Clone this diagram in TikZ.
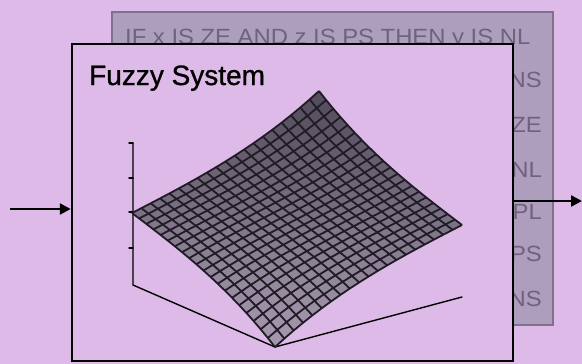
\documentclass[tikz,border=0pt]{standalone}
\usepackage{fontspec}
\setmainfont{Liberation Sans}
\newfontfamily\titlefont{Liberation Sans}[FakeBold=0.9]
\usetikzlibrary{arrows.meta,positioning,calc}
\definecolor{bgpink}{RGB}{222,186,232}
\definecolor{rulefill}{RGB}{172,158,188}
\definecolor{ruledraw}{RGB}{128,114,140}
\definecolor{ruletext}{RGB}{112,98,124}
\definecolor{meshdark}{RGB}{84,76,92}
\definecolor{meshlight}{RGB}{165,152,175}
\definecolor{meshline}{RGB}{32,28,38}

\begin{document}
\begin{tikzpicture}[x=1pt,y=-1pt,
  declare function={hh(\ww)=0.5+0.65*(\ww-0.5)+1.4*(\ww-0.5)^3;
    px(\uu,\vv)=275-143*\uu+187*\vv;
    py(\uu,\vv)=347-62*\uu-50*\vv-144*hh((\uu+\vv)/2);},
  rulebox/.style={draw=ruledraw,line width=1.5pt,fill=rulefill,minimum width=441pt,minimum height=313pt,inner sep=0pt},
  sysbox/.style={draw,line width=2.5pt,fill=bgpink,minimum width=441pt,minimum height=317pt,inner sep=0pt},
  ruletxt/.style={text=ruletext,font=\fontsize{22}{22}\selectfont,xscale=1.083,inner sep=0pt,anchor=base east},
  flow/.style={line width=2.4pt,-{Triangle[length=11pt,width=11pt]}},
  axis/.style={line width=1.4pt,line cap=round},
  grid line/.style={meshline,line width=1.8pt,line join=round}]
\fill[bgpink] (0,0) rectangle (582,364);
\useasboundingbox (0,0) rectangle (582,364);

% rule base behind the system
\node[rulebox] (rules) at (332.5,168.5) {};
\node[ruletxt,anchor=base west] (r0) at (125,44) {IF x IS ZE AND z IS PS THEN y IS NL};
\foreach \lbl/\yb [count=\k] in {NS/87,ZE/132,NL/177,PL/219,PS/261,NS/306}
  \node[ruletxt] (r\k) at (542,\yb) {\lbl};

% fuzzy system box
\node[sysbox] (fsys) at (292.5,202.5) {};
\node[anchor=base west,font=\titlefont\fontsize{28}{28}\selectfont,inner sep=0pt] (title) at (89,85) {Fuzzy System};

% input and output
\coordinate (src) at (10,209);
\coordinate (dst) at (582,201);
\draw[flow] (src) -- (src -| fsys.west);
\draw[flow] (fsys.east |- dst) -- (dst);

% axes of the surface plot
\coordinate (ztop) at (133,143);
\coordinate (orig) at (133,285);
\coordinate (xend) at (275,347);
\coordinate (yend) at (462,297);
\draw[axis] (ztop) -- (orig) -- (xend) -- (yend);
\foreach \yt in {143,178,212,248}
  \draw[axis] (133,\yt) -- ++(-4,0);

% control surface
\foreach \i in {19,...,0}{
  \foreach \j in {19,...,0}{
    \pgfmathsetmacro\sa{\i/20}
    \pgfmathsetmacro\sb{(\i+1)/20}
    \pgfmathsetmacro\ta{\j/20}
    \pgfmathsetmacro\tb{(\j+1)/20}
    \pgfmathsetmacro\tone{50*(\sa+\tb)}
    \fill[meshdark!\tone!meshlight] ({px(\sa,\ta)},{py(\sa,\ta)}) -- ({px(\sb,\ta)},{py(\sb,\ta)})
      -- ({px(\sb,\tb)},{py(\sb,\tb)}) -- ({px(\sa,\tb)},{py(\sa,\tb)}) -- cycle;
  }
}
\foreach \k in {0,...,20}{
  \draw[grid line] plot[domain=0:1,samples=21] ({px(\x,\k/20)},{py(\x,\k/20)});
  \draw[grid line] plot[domain=0:1,samples=21] ({px(\k/20,\x)},{py(\k/20,\x)});
}
\end{tikzpicture}
\end{document}
